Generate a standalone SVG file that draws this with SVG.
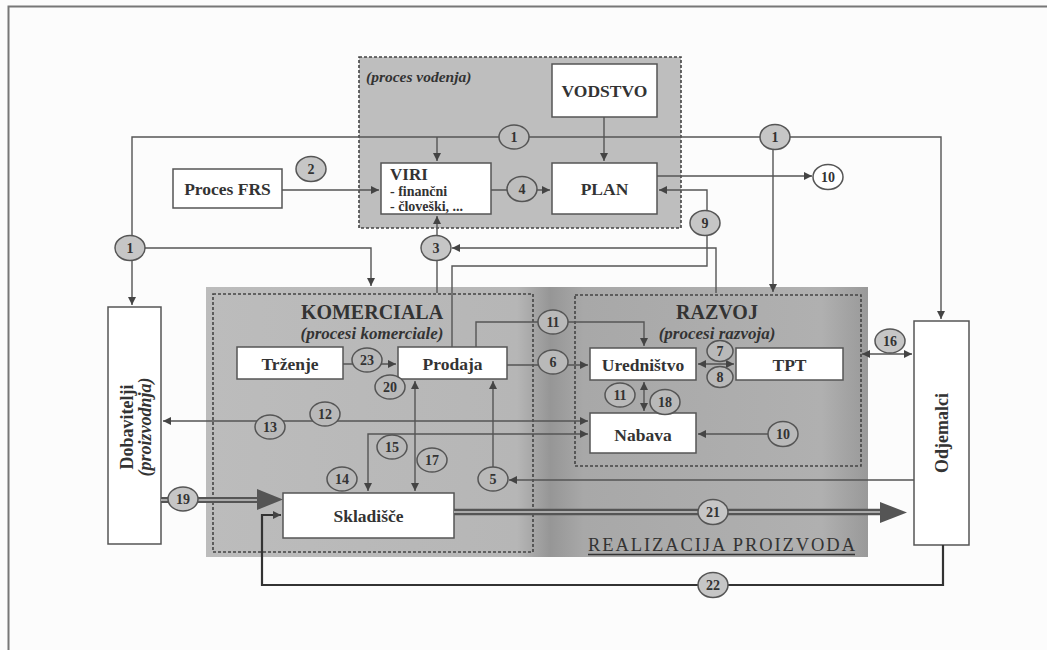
<svg xmlns="http://www.w3.org/2000/svg" width="1047" height="650" viewBox="0 0 1047 650">
<defs>
<style>
.box{fill:#ffffff;stroke:#555;stroke-width:1.5}
.t{font-family:"Liberation Serif","Times New Roman",serif;font-weight:bold;fill:#333;text-anchor:middle}
.lbl{font-size:17.5px}
.big{font-size:20px}
.it{font-style:italic}
.num{font-size:14px}
.ln{fill:none;stroke:#555;stroke-width:1.4}
.dash{fill:none;stroke:#444;stroke-width:1.6;stroke-dasharray:3 2}
.cg{fill:#c6c6c6;stroke:#555;stroke-width:1.5}
.cw{fill:#ffffff;stroke:#555;stroke-width:1.5}
.cb{fill:#b9b9b9;stroke:#555;stroke-width:1.5}
.cv{fill:#bdbdbd;stroke:#555;stroke-width:1.5}
</style>
<marker id="ah" viewBox="0 0 10 10" refX="10" refY="5" markerWidth="9" markerHeight="8" markerUnits="userSpaceOnUse" orient="auto-start-reverse"><path d="M0,0L10,5L0,10z" fill="#444"/></marker>
<linearGradient id="rg" x1="206" y1="0" x2="868" y2="0" gradientUnits="userSpaceOnUse">
<stop offset="0" stop-color="#bcbcbc"/>
<stop offset="0.47" stop-color="#b6b6b6"/>
<stop offset="0.52" stop-color="#969696"/>
<stop offset="0.57" stop-color="#a8a8a8"/>
<stop offset="0.93" stop-color="#b0b0b0"/>
<stop offset="1" stop-color="#999999"/>
</linearGradient>
</defs>

<rect x="0" y="0" width="1047" height="650" fill="#fcfcfc"/>
<path d="M8.5,650 V6.5 H1047" fill="none" stroke="#777" stroke-width="2"/>

<g id="proces-vodenja">
<rect x="359" y="57" width="322" height="171" fill="#bebebe"/>
<rect x="359" y="57" width="322" height="171" class="dash"/>
<text x="366" y="82" class="t it" style="font-size:15.5px;text-anchor:start">(proces vodenja)</text>
</g>

<g id="realizacija-proizvoda">
<rect x="206" y="287" width="662" height="270" fill="url(#rg)"/>
<text x="721.5" y="551" class="t" style="font-size:18.5px;font-weight:normal" textLength="267" lengthAdjust="spacing">REALIZACIJA PROIZVODA</text>
<line x1="588" y1="554.5" x2="855" y2="554.5" stroke="#333" stroke-width="1.3"/>
</g>

<g id="komerciala">
<rect x="213" y="294" width="320" height="258" class="dash"/>
<text x="372" y="319" class="t big">KOMERCIALA</text>
<text x="372" y="339" class="t it" style="font-size:17px">(procesi komerciale)</text>
</g>

<g id="razvoj">
<rect x="575" y="295" width="286" height="171" class="dash"/>
<text x="717" y="319" class="t big">RAZVOJ</text>
<text x="717" y="339" class="t it" style="font-size:17px">(procesi razvoja)</text>
</g>

<g id="vodstvo"><rect x="552" y="64" width="105" height="53" class="box"/><text x="604.5" y="97" class="t lbl">VODSTVO</text></g>
<g id="viri"><rect x="381" y="163" width="110" height="51" class="box"/>
<text x="390" y="180" class="t" style="font-size:17px;text-anchor:start">VIRI</text>
<text x="390" y="196" class="t" style="font-size:14px;text-anchor:start">- finančni</text>
<text x="390" y="211" class="t" style="font-size:14px;text-anchor:start">- človeški, ...</text></g>
<g id="plan"><rect x="552" y="163" width="105" height="51" class="box"/><text x="604.5" y="195" class="t lbl">PLAN</text></g>
<g id="proces-frs"><rect x="173" y="169" width="109" height="39" class="box"/><text x="227.5" y="195" class="t lbl">Proces FRS</text></g>
<g id="trzenje"><rect x="237" y="347" width="106" height="32" class="box"/><text x="290" y="370" class="t lbl">Trženje</text></g>
<g id="prodaja"><rect x="398" y="347" width="109" height="32" class="box"/><text x="452.5" y="370" class="t lbl">Prodaja</text></g>
<g id="urednistvo"><rect x="590" y="348" width="106" height="32" class="box"/><text x="643" y="371" class="t lbl">Uredništvo</text></g>
<g id="tpt"><rect x="736" y="348" width="107" height="32" class="box"/><text x="789.5" y="371" class="t lbl">TPT</text></g>
<g id="nabava"><rect x="590" y="413" width="106" height="40" class="box"/><text x="643" y="441" class="t lbl">Nabava</text></g>
<g id="skladisce"><rect x="283" y="493" width="171" height="45" class="box"/><text x="368.5" y="522" class="t lbl">Skladišče</text></g>
<g id="dobavitelji"><rect x="108" y="307" width="53" height="237" class="box"/>
<text transform="translate(133,427) rotate(-90)" class="t" style="font-size:18px">Dobavitelji</text>
<text transform="translate(151,427) rotate(-90)" class="t it" style="font-size:18px">(proizvodnja)</text></g>
<g id="odjemalci"><rect x="914" y="321" width="55" height="224" class="box"/>
<text transform="translate(948,433) rotate(-90)" class="t" style="font-size:18px">Odjemalci</text></g>

<g id="connectors">
<path d="M514,137 H941 V319" class="ln" marker-end="url(#ah)"/>
<path d="M514,137 H132 V305" class="ln" marker-end="url(#ah)"/>
<path d="M437,137 V161" class="ln" marker-end="url(#ah)"/>
<path d="M773,137 V292" class="ln" marker-end="url(#ah)"/>
<path d="M132,248 H371 V286" class="ln" marker-end="url(#ah)"/>
<path d="M604,117 V161" class="ln" marker-end="url(#ah)"/>
<path d="M282,190 H379" class="ln" marker-end="url(#ah)"/>
<path d="M491,190 H550" class="ln" marker-end="url(#ah)"/>
<path d="M657,176 H812" class="ln" marker-end="url(#ah)"/>
<path d="M452,347 V266 H707 V190 H659" class="ln" marker-end="url(#ah)"/>
<path d="M716,293 V248 H452" class="ln" marker-end="url(#ah)"/>
<path d="M437,293 V216" class="ln" marker-end="url(#ah)"/>
<path d="M343,364 H396" class="ln" marker-end="url(#ah)"/>
<path d="M507,365 H588" class="ln" marker-end="url(#ah)"/>
<path d="M476,347 V322 H644 V346" class="ln" marker-end="url(#ah)"/>
<path d="M698,364 H734" class="ln" marker-start="url(#ah)" marker-end="url(#ah)"/>
<path d="M644,382 V411" class="ln" marker-start="url(#ah)" marker-end="url(#ah)"/>
<path d="M768,434 H698" class="ln" marker-end="url(#ah)"/>
<path d="M163,421 H588" class="ln" marker-start="url(#ah)" marker-end="url(#ah)"/>
<path d="M588,434 H368 V491" class="ln" marker-start="url(#ah)" marker-end="url(#ah)"/>
<path d="M415,381 V491" class="ln" marker-start="url(#ah)" marker-end="url(#ah)"/>
<path d="M493,467 V381" class="ln" marker-end="url(#ah)"/>
<path d="M914,480 H509" class="ln" marker-end="url(#ah)"/>
<path d="M862,354 H912" class="ln" marker-start="url(#ah)" marker-end="url(#ah)"/>
<path d="M943,545 V585 H262 V515 H281" fill="none" stroke="#333" stroke-width="2.2" marker-end="url(#ah)"/>
<line x1="161" y1="500" x2="259" y2="500" stroke="#555" stroke-width="6"/>
<line x1="161" y1="500" x2="259" y2="500" stroke="#aaa" stroke-width="2"/>
<path d="M257,489 L283,499.5 L257,510 z" fill="#555"/>
<line x1="454" y1="512" x2="882" y2="512" stroke="#555" stroke-width="6.5"/>
<line x1="454" y1="512" x2="882" y2="512" stroke="#aaa" stroke-width="2"/>
<path d="M880,502 L907,512.5 L880,523 z" fill="#555"/>
</g>

<g id="connector-labels">
<ellipse cx="514" cy="137" rx="15" ry="12" class="cv"/><text x="514" y="142" class="t num">1</text>
<ellipse cx="775" cy="137" rx="15" ry="12.5" class="cg"/><text x="775" y="142" class="t num">1</text>
<ellipse cx="130" cy="248" rx="15" ry="12.5" class="cg"/><text x="130" y="253" class="t num">1</text>
<ellipse cx="311" cy="169" rx="15" ry="12.5" class="cg"/><text x="311" y="174" class="t num">2</text>
<ellipse cx="436" cy="248" rx="15" ry="12.5" class="cg"/><text x="436" y="253" class="t num">3</text>
<ellipse cx="522" cy="189" rx="15" ry="12.5" class="cv"/><text x="522" y="194" class="t num">4</text>
<ellipse cx="705" cy="223" rx="15" ry="12.5" class="cg"/><text x="705" y="228" class="t num">9</text>
<ellipse cx="828" cy="177" rx="15" ry="12.5" class="cw"/><text x="828" y="182" class="t num">10</text>
<ellipse cx="367" cy="360" rx="15" ry="12" class="cb"/><text x="367" y="365" class="t num">23</text>
<ellipse cx="390" cy="387" rx="15" ry="12" class="cb"/><text x="390" y="392" class="t num">20</text>
<ellipse cx="325" cy="414" rx="15" ry="12" class="cb"/><text x="325" y="419" class="t num">12</text>
<ellipse cx="270" cy="427" rx="15" ry="12" class="cb"/><text x="270" y="432" class="t num">13</text>
<ellipse cx="392" cy="447" rx="15" ry="12" class="cb"/><text x="392" y="452" class="t num">15</text>
<ellipse cx="432" cy="460" rx="15" ry="12" class="cb"/><text x="432" y="465" class="t num">17</text>
<ellipse cx="342" cy="479" rx="15" ry="12" class="cb"/><text x="342" y="484" class="t num">14</text>
<ellipse cx="493" cy="479" rx="15" ry="12" class="cb"/><text x="493" y="484" class="t num">5</text>
<ellipse cx="553" cy="322" rx="15" ry="12" class="cb"/><text x="553" y="327" class="t num">11</text>
<ellipse cx="553" cy="362" rx="15" ry="12" class="cb"/><text x="553" y="367" class="t num">6</text>
<ellipse cx="720" cy="351" rx="13" ry="10.5" class="cb"/><text x="720" y="356" class="t num">7</text>
<ellipse cx="720" cy="377" rx="13" ry="10.5" class="cb"/><text x="720" y="382" class="t num">8</text>
<ellipse cx="620" cy="395" rx="15" ry="12" class="cb"/><text x="620" y="400" class="t num">11</text>
<ellipse cx="665" cy="402" rx="15" ry="12.5" class="cb"/><text x="665" y="407" class="t num">18</text>
<ellipse cx="783" cy="434" rx="15" ry="12.5" class="cb"/><text x="783" y="439" class="t num">10</text>
<ellipse cx="890" cy="341" rx="15" ry="12" class="cg"/><text x="890" y="346" class="t num">16</text>
<ellipse cx="183" cy="499" rx="15" ry="12" class="cg"/><text x="183" y="504" class="t num">19</text>
<ellipse cx="713" cy="512" rx="15" ry="12.5" class="cg"/><text x="713" y="517" class="t num">21</text>
<ellipse cx="713" cy="585" rx="15" ry="12.5" class="cg"/><text x="713" y="590" class="t num">22</text>
</g>
</svg>
